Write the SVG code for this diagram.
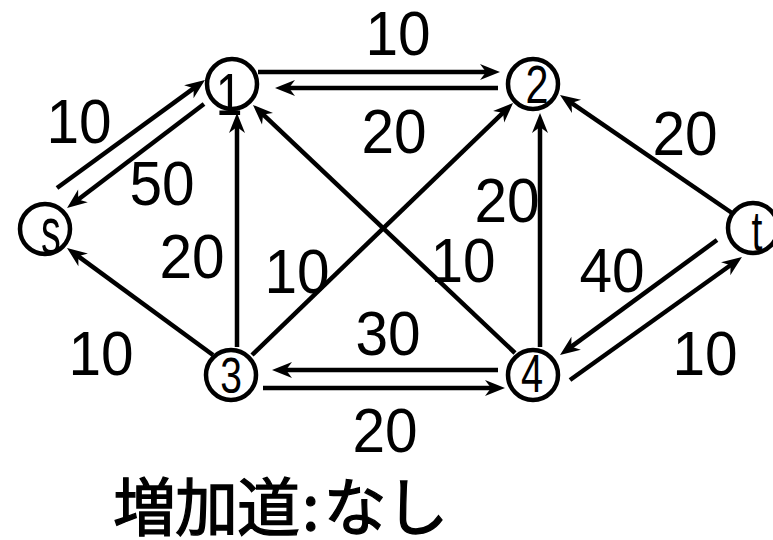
<svg xmlns="http://www.w3.org/2000/svg" width="773" height="540" viewBox="0 0 773 540">
<style>
.node{fill:#fff;stroke:#000;stroke-width:4.5}
.nl{font-family:"Liberation Sans",Arial,sans-serif;font-size:53px;text-anchor:middle;fill:#000}
.el{font-family:"Liberation Sans",Arial,sans-serif;font-size:63px;text-anchor:middle;fill:#000}
.edge{fill:none;stroke:#000;stroke-width:4.5;marker-end:url(#ah)}
.cap{font-family:"Noto Sans CJK JP","Noto Sans CJK SC",sans-serif;font-size:63px;font-weight:400;fill:#000;stroke:#000;stroke-width:1.3;letter-spacing:-1px}
</style>
<defs>
<marker id="ah" markerUnits="userSpaceOnUse" viewBox="-10 -10 24 20" markerWidth="24" markerHeight="20" refX="0" refY="0" orient="auto">
<path d="M12,0 L-8,-8 L-2,0 L-8,8 Z" fill="#000"/>
</marker>
</defs>
<rect width="773" height="540" fill="#fff"/>
<g id="connectors">
<path class="edge" d="M57,188 L195.3,87.1"/>
<path class="edge" d="M204,104 L76.6,200.7"/>
<path class="edge" d="M213,355 L76.7,255.1"/>
<path class="edge" d="M237,347 L237,125"/>
<path class="edge" d="M258,72 L488,72"/>
<path class="edge" d="M498,88 L287,88"/>
<path class="edge" d="M252,355 L504.4,111.3"/>
<path class="edge" d="M515,353 L261.7,113.2"/>
<path class="edge" d="M540,347 L540,125"/>
<path class="edge" d="M732,213 L569.9,101.8"/>
<path class="edge" d="M717,240 L569.7,347.9"/>
<path class="edge" d="M570,380 L732.2,264"/>
<path class="edge" d="M498,370 L284,370"/>
<path class="edge" d="M263,388 L493,388"/>
</g>
<g id="edge-labels">
<text class="el" transform="translate(398 55) scale(0.93 1)">10</text>
<text class="el" transform="translate(394 153) scale(0.93 1)">20</text>
<text class="el" transform="translate(79 143) scale(0.93 1)">10</text>
<text class="el" transform="translate(162 205) scale(0.93 1)">50</text>
<text class="el" transform="translate(192 278) scale(0.93 1)">20</text>
<text class="el" transform="translate(101 375) scale(0.93 1)">10</text>
<text class="el" transform="translate(297 293) scale(0.93 1)">10</text>
<text class="el" transform="translate(388 355) scale(0.93 1)">30</text>
<text class="el" transform="translate(385 452) scale(0.93 1)">20</text>
<text class="el" transform="translate(507 222) scale(0.93 1)">20</text>
<text class="el" transform="translate(463 282) scale(0.93 1)">10</text>
<text class="el" transform="translate(612 292) scale(0.93 1)">40</text>
<text class="el" transform="translate(705 375) scale(0.93 1)">10</text>
<text class="el" transform="translate(685 155) scale(0.93 1)">20</text>
</g>
<g id="node-s"><circle class="node" cx="45" cy="229" r="25"/><text class="nl" transform="translate(51 254) scale(0.6 1)" style="font-size:66px">s</text></g>
<g id="node-1"><circle class="node" cx="232" cy="84" r="25"/><text class="nl" transform="translate(229 115) scale(0.8 1)" style="font-size:60px">1</text></g>
<g id="node-2"><circle class="node" cx="533" cy="84" r="25"/><text class="nl" transform="translate(537 103) scale(0.78 1)">2</text></g>
<g id="node-3"><circle class="node" cx="231" cy="375" r="25"/><text class="nl" transform="translate(231 393) scale(0.78 1)" style="font-size:50px">3</text></g>
<g id="node-4"><circle class="node" cx="533" cy="375" r="25"/><text class="nl" transform="translate(532 392) scale(0.75 1)">4</text></g>
<g id="node-t"><circle class="node" cx="753" cy="228" r="25"/><text class="nl" transform="translate(757 250) scale(0.7 1)" style="font-size:56px">t</text></g>
<text class="cap" x="113" y="530">増加道<tspan dx="3">:</tspan><tspan dx="5">なし</tspan></text>
</svg>
